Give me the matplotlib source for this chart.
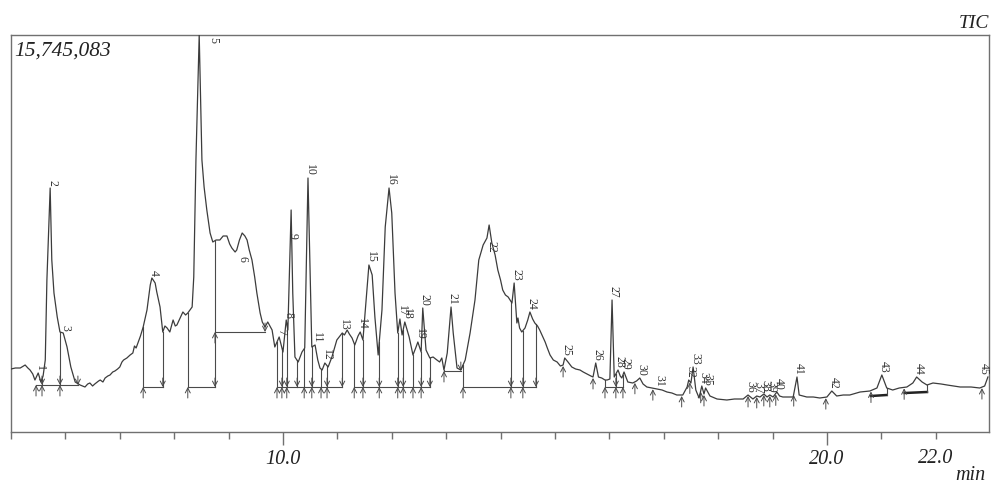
import numpy as np
import matplotlib
matplotlib.use('Agg')
import matplotlib.pyplot as plt

# ---------------- data ----------------
# retention time (min)
rt = [5.00, 5.08, 5.17, 5.26, 5.31, 5.35, 5.40, 5.44, 5.50, 5.55, 5.59, 5.63, 5.66, 5.72, 5.75,
      5.79, 5.85, 5.90, 5.96, 6.03, 6.10, 6.18, 6.27, 6.36, 6.41, 6.45, 6.50, 6.54, 6.61, 6.64,
      6.69, 6.73, 6.78, 6.82, 6.87, 6.91, 6.96, 7.00, 7.04, 7.07, 7.13, 7.19, 7.24, 7.27, 7.30,
      7.34, 7.38, 7.43, 7.50, 7.56, 7.59, 7.65, 7.68, 7.74, 7.79, 7.83, 7.87, 7.92, 7.98, 8.02,
      8.05, 8.11, 8.16, 8.21, 8.25, 8.29, 8.33, 8.36, 8.40, 8.46, 8.51, 8.55, 8.60, 8.66, 8.71,
      8.77, 8.84, 8.90, 8.97, 9.02, 9.06, 9.12, 9.15, 9.20, 9.25, 9.30, 9.34, 9.38, 9.43, 9.48,
      9.52, 9.58, 9.62, 9.67, 9.72, 9.76, 9.80, 9.85, 9.93, 10.00, 10.06, 10.09, 10.15, 10.18, 10.22,
      10.28, 10.35, 10.40, 10.46, 10.53, 10.59, 10.64, 10.68, 10.72, 10.77, 10.83, 10.90, 10.99, 11.09, 11.13,
      11.18, 11.22, 11.27, 11.32, 11.38, 11.42, 11.47, 11.54, 11.58, 11.64, 11.69, 11.75, 11.82, 11.88, 11.95,
      12.00, 12.06, 12.11, 12.15, 12.19, 12.24, 12.32, 12.39, 12.44, 12.48, 12.54, 12.57, 12.63, 12.70, 12.76,
      12.83, 12.88, 12.92, 12.96, 13.02, 13.09, 13.13, 13.20, 13.27, 13.35, 13.44, 13.53, 13.60, 13.68, 13.75,
      13.79, 13.84, 13.90, 13.95, 14.00, 14.04, 14.09, 14.14, 14.21, 14.25, 14.30, 14.32, 14.35, 14.39, 14.45,
      14.50, 14.54, 14.59, 14.63, 14.68, 14.72, 14.77, 14.82, 14.86, 14.91, 14.97, 15.04, 15.10, 15.15, 15.18,
      15.24, 15.31, 15.38, 15.46, 15.52, 15.59, 15.66, 15.70, 15.75, 15.80, 15.86, 15.92, 15.96, 16.01, 16.05,
      16.09, 16.16, 16.20, 16.23, 16.27, 16.34, 16.43, 16.50, 16.56, 16.62, 16.69, 16.78, 16.88, 16.97, 17.06,
      17.15, 17.24, 17.35, 17.43, 17.46, 17.50, 17.54, 17.59, 17.65, 17.70, 17.74, 17.77, 17.85, 17.98, 18.16,
      18.30, 18.46, 18.55, 18.64, 18.71, 18.77, 18.84, 18.90, 18.95, 19.01, 19.08, 19.13, 19.19, 19.38, 19.45,
      19.49, 19.63, 19.75, 19.87, 20.00, 20.09, 20.18, 20.30, 20.42, 20.61, 20.79, 20.92, 21.01, 21.10, 21.21,
      21.33, 21.47, 21.58, 21.65, 21.75, 21.84, 21.95, 22.10, 22.21, 22.45, 22.65, 22.81, 22.90, 22.96]
# TIC intensity (scaled: full box height = 397 -> 15,745,083 counts)
tic = [63, 64, 64, 67, 64, 62, 58, 52, 59, 50, 56, 72, 152, 244, 172,
       139, 115, 100, 99, 85, 65, 50, 47, 45, 48, 49, 46, 48, 51, 52,
       50, 54, 56, 57, 60, 61, 63, 65, 70, 72, 74, 77, 79, 86, 84,
       90, 96, 105, 122, 147, 154, 149, 140, 125, 100, 106, 104, 100, 112, 106,
       107, 114, 120, 117, 119, 122, 125, 155, 272, 397, 272, 245, 222, 199, 190,
       192, 192, 196, 196, 188, 184, 180, 182, 192, 199, 196, 192, 182, 172, 155,
       139, 119, 110, 105, 110, 106, 102, 85, 95, 80, 112, 102, 222, 139, 75,
       70, 80, 84, 254, 85, 87, 72, 64, 62, 69, 65, 75, 92, 99, 97,
       102, 98, 94, 87, 96, 100, 92, 139, 167, 157, 115, 77, 122, 205, 244,
       219, 139, 99, 113, 97, 110, 95, 77, 84, 90, 80, 124, 82, 74, 75,
       72, 70, 74, 62, 79, 125, 99, 64, 62, 72, 99, 132, 172, 187, 194,
       207, 189, 177, 162, 152, 142, 137, 135, 129, 149, 109, 114, 104, 100, 104,
       112, 120, 113, 109, 106, 102, 96, 90, 84, 77, 72, 70, 66, 67, 74,
       70, 65, 63, 62, 60, 58, 56, 55, 69, 55, 54, 52, 52, 53, 132,
       55, 62, 56, 54, 60, 50, 49, 51, 54, 48, 45, 44, 43, 42, 40,
       39, 37, 37, 45, 52, 49, 65, 42, 34, 46, 38, 44, 36, 33, 32,
       33, 33, 37, 33, 36, 35, 38, 35, 37, 35, 40, 36, 35, 35, 55,
       37, 35, 35, 34, 35, 41, 36, 37, 37, 40, 41, 44, 57, 44, 42,
       44, 45, 49, 55, 50, 47, 49, 48, 47, 45, 45, 44, 46, 55]

# peak numbers and apex retention times
peak_id = list(range(1, 46))
peak_rt = [5.50, 5.72, 5.96, 7.59, 8.46, 9.25, 9.93, 10.06, 10.15, 10.46,
           10.59, 10.77, 11.09, 11.42, 11.58, 11.95, 12.15, 12.24, 12.48, 12.57,
           13.09, 13.79, 14.25, 14.54, 15.18, 15.75, 16.05, 16.16, 16.27, 16.56,
           16.88, 17.46, 17.54, 17.70, 17.77, 18.55, 18.71, 18.84, 18.95, 19.08,
           19.45, 20.09, 21.01, 21.65, 22.96]

# integration baselines: (start, end, level)
base_start = [5.46, 7.43, 8.25, 8.75, 9.89, 11.31, 12.96, 13.31, 15.92]
base_end = [6.23, 7.79, 8.75, 9.67, 11.09, 12.70, 13.27, 14.65, 16.25]
base_level = [47, 45, 45, 100, 45, 45, 61, 45, 45]
# bold baselines (start, end, level start, level end)
bold_start = [20.81, 21.43]
bold_end = [21.10, 21.84]
bold_lv0 = [36, 39]
bold_lv1 = [37, 40]
# drop lines (time, baseline level)
drop_t = [5.57, 5.90, 7.43, 7.79, 8.25, 8.75, 9.89, 9.98, 10.07, 10.26, 10.39, 10.53, 10.70,
          10.81, 11.09, 11.31, 11.47, 11.77, 12.11, 12.21, 12.39, 12.54, 12.70, 12.96,
          13.31, 14.19, 14.41, 14.65, 15.92, 16.12, 16.25, 21.10, 21.84]
drop_lv = [47, 47, 45, 45, 45, 45, 45, 45, 45, 45, 45, 45, 45,
           45, 45, 45, 45, 45, 45, 45, 45, 45, 45, 61,
           45, 45, 45, 45, 45, 45, 45, 37, 40]
# peak-start marks (up arrows) on baselines
up_t = [5.46, 5.57, 5.90, 7.43, 8.25, 8.75, 9.89, 9.98, 10.07, 10.39, 10.53, 10.70, 10.81,
        11.31, 11.47, 11.77, 12.11, 12.21, 12.39, 12.54, 12.96, 13.31, 14.19, 14.41,
        15.92, 16.12, 16.25]
up_lv = [47, 47, 47, 45, 45, 100, 45, 45, 45, 45, 45, 45, 45,
         45, 45, 45, 45, 45, 45, 45, 61, 45, 45, 45,
         45, 45, 45]
# peak-start marks on the trace itself (small peaks)
up_trace_t = [15.15, 15.70, 16.47, 16.80, 17.33, 17.48, 17.68, 17.74, 18.55, 18.71,
              18.84, 18.95, 19.06, 19.39, 19.98, 20.81, 21.42, 22.85]
# peak-end marks (down arrows)
dn_t = [5.57, 5.90, 6.23, 7.79, 8.75, 9.67, 9.98, 10.07, 10.26, 10.53, 10.81, 11.09,
        11.47, 11.77, 12.11, 12.21, 12.54, 12.70, 13.27, 14.19, 14.41, 14.65, 16.12]
dn_lv = [47, 47, 47, 45, 45, 100, 45, 45, 45, 45, 45, 45,
         45, 45, 45, 45, 45, 45, 61, 45, 45, 45, 45]

max_counts = "15,745,083"

# ---------------- drawing ----------------
rt_a = np.array(rt)
tic_a = np.array(tic, dtype=float)

W, H = 992, 484
fig = plt.figure(figsize=(W / 100, H / 100), dpi=100)
ax = fig.add_axes([11 / W, 52 / H, 978 / W, 397 / H])
ax.set_xlim(5.0, 22.98)
ax.set_ylim(0, 397)

line_col = '#3c3c3c'
mark_col = '#4a4a4a'
serif = ['Liberation Serif', 'DejaVu Serif']

# integration baselines
for s, e, lv in zip(base_start, base_end, base_level):
    ax.plot([s, e], [lv, lv], color=mark_col, lw=0.8, zorder=2)
for s, e, a, b in zip(bold_start, bold_end, bold_lv0, bold_lv1):
    ax.plot([s, e], [a, b], color='#222222', lw=1.8, zorder=2)
# drop lines from trace to baseline
for t, lv in zip(drop_t, drop_lv):
    top = np.interp(t, rt_a, tic_a)
    ax.plot([t, t], [lv, top], color=mark_col, lw=0.8, zorder=2)

arrow_kw = dict(arrowstyle='->,head_length=0.35,head_width=0.18', color=mark_col, lw=0.7,
                shrinkA=0, shrinkB=0)
for t, lv in zip(up_t, up_lv):
    ax.annotate('', xy=(t, lv), xytext=(t, lv - 11), arrowprops=arrow_kw, zorder=3)
for t in up_trace_t:
    lv = np.interp(t, rt_a, tic_a) - 1
    ax.annotate('', xy=(t, lv), xytext=(t, lv - 11), arrowprops=arrow_kw, zorder=3)
for t, lv in zip(dn_t, dn_lv):
    ax.annotate('', xy=(t, lv), xytext=(t, lv + 9), arrowprops=arrow_kw, zorder=3)

# the TIC trace
ax.plot(rt_a, tic_a, color=line_col, lw=0.9, zorder=4)

# peak labels (rotated, just above each apex)
label_adjust = {5: (8.71, 389), 6: (9.26, 170), 9: (10.17, 193), 22: (13.84, 179),
                45: (22.89, 57)}
for pid, t in zip(peak_id, peak_rt):
    if pid in label_adjust:
        lx, ly = label_adjust[pid]
    else:
        lx = t + 0.035
        ly = np.interp(t, rt_a, tic_a) + 2
    ax.text(lx, ly, str(pid), rotation=-90, ha='center', va='bottom',
            fontsize=8.5, family=serif, color='#333333', zorder=5)

# frame and axis
for sp in ax.spines.values():
    sp.set_color('#707070')
    sp.set_linewidth(1.0)
ax.set_yticks([])
ax.set_xticks([10, 20], labels=['10.0', '20.0'])
ax.set_xticks(np.arange(5, 23), labels=['22.0' if v == 22 else '' for v in range(5, 23)], minor=True)
ax.tick_params(axis='x', which='major', length=9, width=1, color='#707070', pad=4.3)
ax.tick_params(axis='x', which='minor', length=5, width=1, color='#707070', pad=7.2)
for lab in ax.get_xticklabels(which='both'):
    lab.set_fontfamily(serif)
    lab.set_fontstyle('italic')
    lab.set_fontsize(14.5)
    lab.set_color('#222222')

txt_kw = dict(family=serif, style='italic', color='#222222')
fig.text(14 / W, 1 - 56 / H, max_counts, ha='left', va='baseline', fontsize=15.5, **txt_kw)
fig.text(989 / W, 1 - 28 / H, 'TIC', ha='right', va='baseline', fontsize=14, **txt_kw)
fig.text(986 / W, 1 - 480 / H, 'min', ha='right', va='baseline', fontsize=14.5, **txt_kw)

fig.savefig('out.png', dpi=100)
